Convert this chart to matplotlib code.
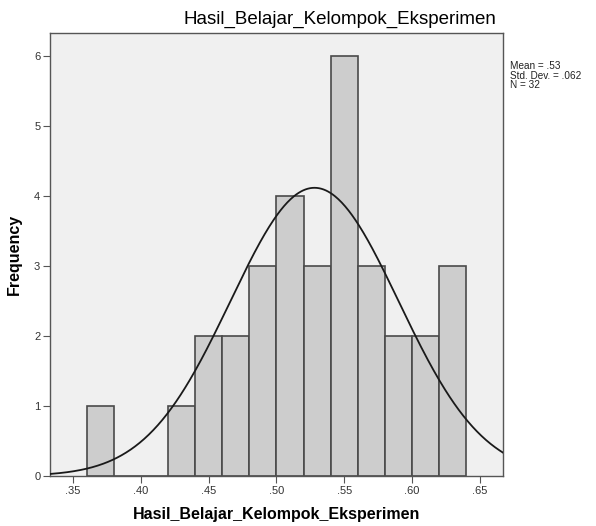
import numpy as np
import matplotlib.pyplot as plt

plt.rcParams['font.family'] = ['Liberation Sans', 'DejaVu Sans']

# data
bin_left = [0.36, 0.38, 0.40, 0.42, 0.44, 0.46, 0.48, 0.50, 0.52, 0.54, 0.56, 0.58, 0.60, 0.62]
counts = [1, 0, 0, 1, 2, 2, 3, 4, 3, 6, 3, 2, 2, 3]
bin_width = 0.02
mean = 0.528
std = 0.062
n = 32
xticks = [0.35, 0.40, 0.45, 0.50, 0.55, 0.60, 0.65]
yticks = [0, 1, 2, 3, 4, 5, 6]
var_name = 'Hasil_Belajar_Kelompok_Eksperimen'

fig = plt.figure(figsize=(5.96, 5.26), dpi=100)
ax = fig.add_axes([50/596, 50/526, 453/596, 443/526])
ax.set_facecolor('#f0f0f0')

ax.bar(bin_left, counts, width=bin_width, align='edge',
       color='#cdcdcd', edgecolor='#4a4a4a', linewidth=1.2, zorder=2)

# normal curve
xs = np.linspace(0.333, 0.667, 400)
ys = n * bin_width / (std * np.sqrt(2 * np.pi)) * np.exp(-0.5 * ((xs - mean) / std) ** 2)
ax.plot(xs, ys, color='#1a1a1a', linewidth=1.3, zorder=3)

ax.set_xlim(0.333, 0.667)
ax.set_ylim(0, 6.33)
ax.set_xticks(xticks)
ax.set_xticklabels(['.%02d' % round(v * 100) for v in xticks])
ax.set_yticks(yticks)
ax.tick_params(axis='both', labelsize=8, colors='#555555', labelcolor='#333333',
               length=5, width=0.8, direction='out', pad=2)
for s in ax.spines.values():
    s.set_color('#555555')
    s.set_linewidth(1.0)

ax.set_xlabel(var_name, fontsize=11.5, fontweight='bold', labelpad=8)
ax.set_ylabel('Frequency', fontsize=11.5, fontweight='bold', labelpad=9)

fig.text(340/596, 1 - 19/526, var_name, fontsize=13.5, ha='center', va='center')
fig.text(510/596, 1 - 61/526, 'Mean = .53\nStd. Dev. = .062\nN = 32',
         fontsize=7.2, ha='left', va='top', linespacing=0.95, color='#222222')

fig.savefig('out.png', dpi=100, facecolor='white')
